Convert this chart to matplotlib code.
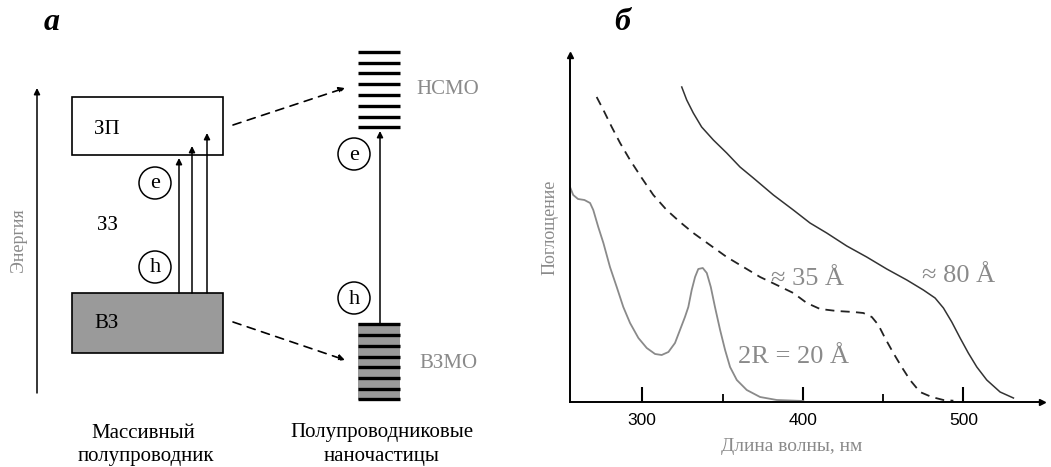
import matplotlib
matplotlib.use("Agg")
import matplotlib.pyplot as plt
from matplotlib.patches import Rectangle, Circle

plt.rcParams['font.family'] = ['Liberation Serif', 'DejaVu Serif']

# --- данные спектров поглощения (б) ---
wl_20 = [255, 257, 260, 264, 267.5, 269.5, 272.6, 275.8, 279.9, 284.1, 288.2, 292.4,
         297.6, 302.8, 308, 312.1, 316.3, 320.4, 323.5, 326.6, 328.7, 330.8, 332.9,
         334.9, 337.7, 340.2, 342.7, 345.3, 348.5, 351.6, 354.7, 358.9, 365.1, 373.4,
         383.8, 400.3]
abs_20 = [215, 207, 203, 202, 199, 192, 175, 159, 135, 115, 95, 79,
          64, 54, 48, 47, 50, 59, 72, 85, 95, 112, 125,
          133, 134, 129, 115, 95, 72, 52, 35, 22, 12, 5,
          2, 1]

wl_35 = [271.6, 275.8, 281, 286.2, 292.4, 299.7, 306.9, 315.2, 323.5, 331.8, 342.2,
         352.6, 363, 373.4, 383.8, 394.1, 402.5, 410.8, 421.2, 431.5, 437.7, 443,
         447.1, 451.2, 456.4, 461.6, 466.8, 473, 480.3, 487.6, 493.8]
abs_35 = [305, 292, 275, 259, 242, 224, 207, 192, 180, 169, 157,
          145, 135, 125, 117, 109, 99, 93, 91, 90, 89, 85,
          77, 64, 49, 35, 22, 10, 5, 2, 1.3]

wl_80 = [324.6, 327.7, 331.8, 337, 344.3, 352.6, 360.9, 369.2, 381.7, 394.1, 404.5,
         414.9, 427.4, 439.8, 452.3, 464.8, 475.1, 482.4, 487.6, 492.8, 498, 503.1,
         508.4, 514.6, 522.9, 531.2]
abs_80 = [315, 302, 289, 275, 262, 249, 235, 224, 207, 192, 179,
          169, 156, 145, 133, 122, 112, 104, 94, 80, 64, 49,
          35, 22, 10, 4]

major_ticks = [300, 400, 500]
minor_ticks = [350, 450]

# уровни в наночастице (схема а)
lumo_levels = [52, 63, 73, 84, 95, 106, 117, 127]
homo_levels = [324, 335, 346, 357, 367, 378, 389, 399]

GRAY = '#8a8a8a'
FILL = '#9a9a9a'

fig = plt.figure(figsize=(10.51, 4.67), dpi=100)

# ---------------- схема (а) в пиксельных координатах ----------------
ax0 = fig.add_axes([0, 0, 1, 1])
ax0.set_xlim(0, 1051)
ax0.set_ylim(467, 0)
ax0.axis('off')

arr = dict(arrowstyle='-|>', mutation_scale=9, lw=1.1, color='black',
           shrinkA=0, shrinkB=0)

# ось энергии
ax0.annotate('', xy=(37, 88), xytext=(37, 393), arrowprops=arr)
ax0.text(18, 240, 'Энергия', rotation=90, ha='center', va='center',
         color=GRAY, fontsize=13)

# зоны массивного полупроводника
ax0.add_patch(Rectangle((72, 97), 151, 58, fc='white', ec='black', lw=1.2))
ax0.add_patch(Rectangle((72, 293), 151, 60, fc=FILL, ec='black', lw=1.2))
ax0.text(107, 130, 'ЗП', ha='center', va='center', fontsize=15)
ax0.text(107, 225, 'ЗЗ', ha='center', va='center', fontsize=15)
ax0.text(107, 324, 'ВЗ', ha='center', va='center', fontsize=15)

for x, tip in [(179, 158), (192, 146), (207, 133)]:
    ax0.annotate('', xy=(x, tip), xytext=(x, 293), arrowprops=arr)

for cx, cy, s in [(155, 183, 'e'), (155, 267, 'h'), (354, 154, 'e'), (354, 298, 'h')]:
    ax0.add_patch(Circle((cx, cy), 16, fc='none', ec='black', lw=1.1))
    ax0.text(cx, cy + 1, s, ha='center', va='center', fontsize=16)

# пунктирные стрелки
dash_arr = dict(arrowstyle='-|>', mutation_scale=9, lw=1.2, color='black',
                linestyle=(0, (5, 4)), shrinkA=0, shrinkB=0)
ax0.annotate('', xy=(345, 88), xytext=(233, 125), arrowprops=dash_arr)
ax0.annotate('', xy=(345, 360), xytext=(233, 322), arrowprops=dash_arr)

# уровни наночастицы
ax0.hlines(lumo_levels, 358, 400, color='black', lw=2.4)
ax0.add_patch(Rectangle((358, 323), 42, 77, fc=FILL, ec='none'))
ax0.hlines(homo_levels, 358, 400, color='black', lw=2.4)
ax0.annotate('', xy=(380, 131), xytext=(380, 323), arrowprops=arr)
ax0.text(448, 90, 'НСМО', ha='center', va='center', color=GRAY, fontsize=15)
ax0.text(448, 363, 'ВЗМО', ha='center', va='center', color=GRAY, fontsize=15)

ax0.text(143, 433, 'Массивный', ha='center', va='center', fontsize=15)
ax0.text(146, 457, 'полупроводник', ha='center', va='center', fontsize=15)
ax0.text(382, 433, 'Полупроводниковые', ha='center', va='center', fontsize=15)
ax0.text(382, 457, 'наночастицы', ha='center', va='center', fontsize=15)

ax0.text(52, 23, 'а', ha='center', va='center', fontsize=23,
         fontweight='bold', fontstyle='italic')
ax0.text(622, 23, 'б', ha='center', va='center', fontsize=23,
         fontweight='bold', fontstyle='italic')

# ---------------- спектры (б) ----------------
ax = fig.add_axes([570 / 1051, 65 / 467, 472 / 1051, 347 / 467])
ax.patch.set_alpha(0)
ax.set_xlim(255, 549)
ax.set_ylim(0, 347)

ax.plot(wl_20, abs_20, color=GRAY, lw=1.3)
ax.plot(wl_35, abs_35, color='#222222', lw=1.3, dashes=(5, 3.5))
ax.plot(wl_80, abs_80, color='#333333', lw=1.1)

for side in ['top', 'right']:
    ax.spines[side].set_visible(False)
for side in ['left', 'bottom']:
    ax.spines[side].set_linewidth(1.4)
ax.plot(1, 0, '>k', ms=5, transform=ax.transAxes, clip_on=False)
ax.plot(0, 1, '^k', ms=5, transform=ax.transAxes, clip_on=False)

ax.set_xticks(major_ticks)
ax.set_xticks(minor_ticks, minor=True)
ax.set_yticks([])
ax.tick_params(axis='x', which='major', direction='in', length=11, width=1.5,
               pad=8, labelsize=12.5, labelfontfamily='Liberation Sans')
ax.tick_params(axis='x', which='minor', direction='in', length=5.5, width=1.3)

ax.set_xlabel('Длина волны, нм', color=GRAY, fontsize=14)
ax.xaxis.set_label_coords(0.47, -0.104)
ax.set_ylabel('Поглощение', color=GRAY, fontsize=13)
ax.yaxis.set_label_coords(-0.042, 0.504)
ax.yaxis.label.set(va='center', ha='center')

ax.text(403, 117, '≈ 35 Å', ha='center', va='baseline', color=GRAY, fontsize=19)
ax.text(497, 120, '≈ 80 Å', ha='center', va='baseline', color=GRAY, fontsize=19)
ax.text(394, 39, '2R = 20 Å', ha='center', va='baseline', color=GRAY, fontsize=19)

fig.savefig('out.png', dpi=100)
